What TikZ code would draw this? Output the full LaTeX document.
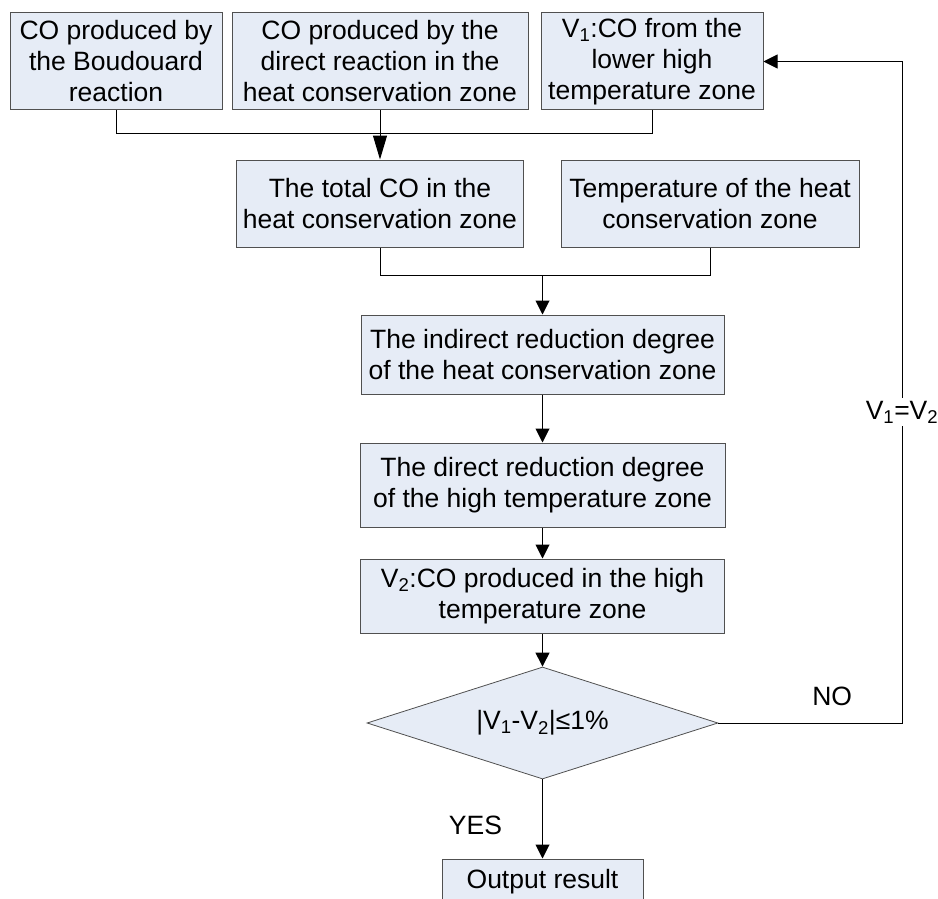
\documentclass[tikz,border=0pt]{standalone}
\usepackage{fontspec}
\setmainfont{Liberation Sans}
\usetikzlibrary{arrows.meta,shapes.geometric}
\definecolor{boxfill}{RGB}{230,236,246}
\definecolor{boxline}{RGB}{80,80,80}
\newcommand{\boxfont}{\fontsize{26.5}{31}\selectfont}
\begin{document}
\begin{tikzpicture}[x=1pt,y=-1pt]
    \tikzstyle{box}=[rectangle, draw=boxline, fill=boxfill, line width=1pt, align=center, inner sep=0pt, font=\boxfont]
    \tikzstyle{decision}=[diamond, aspect=3, draw=boxline, fill=boxfill, line width=0.8pt, inner sep=0pt, font=\boxfont]
    \tikzstyle{line}=[draw=black, line width=1pt]
    \tikzstyle{arrow}=[line, -{Triangle[length=14pt,width=14pt]}]
    \tikzstyle{label}=[inner sep=0pt, font=\boxfont]

    \clip (0,0) rectangle (938,899);

    \node[box, minimum width=212pt, minimum height=97pt] (boudouard) at (116,61.5) {CO produced by\\the Boudouard\\reaction};
    \node[box, minimum width=296pt, minimum height=97pt] (direct) at (380,61.5) {CO produced by the\\direct reaction in the\\heat conservation zone};
    \node[box, minimum width=222pt, minimum height=97pt] (lower) at (652,61.5) {V\textsubscript{1}:CO from the\\lower high\\temperature zone};
    \node[box, minimum width=287pt, minimum height=87pt] (total) at (380,203.5) {The total CO in the\\heat conservation zone};
    \node[box, minimum width=298pt, minimum height=87pt] (temp) at (710,203.5) {Temperature of the heat\\conservation zone};
    \node[box, minimum width=363pt, minimum height=79pt] (indirect) at (542.5,354.5) {The indirect reduction degree\\of the heat conservation zone};
    \node[box, minimum width=365pt, minimum height=84pt] (directdeg) at (542.5,485) {The direct reduction degree\\of the high temperature zone};
    \node[box, minimum width=364pt, minimum height=74pt] (high) at (542.5,596) {V\textsubscript{2}:CO produced in the high\\temperature zone};
    \node[decision, minimum width=351pt, minimum height=112pt] (check) at (542.5,723) {|V\textsubscript{1}-V\textsubscript{2}|≤1\%};
    \node[box, minimum width=201pt, minimum height=46pt] (output) at (542.5,882) {Output result};

    \coordinate (join1) at (380,133);
    \coordinate (join2) at (542.5,275);
    \coordinate (loop) at (902,61.5);

    \draw[line] (boudouard.south) |- (join1);
    \draw[line] (lower.south) |- (join1);
    \draw[line, -{Triangle[length=24pt,width=14pt]}] (direct.south) -- (total.north);
    \draw[line] (total.south) |- (join2);
    \draw[line] (temp.south) |- (join2);
    \draw[arrow] (join2) -- (indirect.north);
    \draw[arrow] (indirect.south) -- (directdeg.north);
    \draw[arrow] (directdeg.south) -- (high.north);
    \draw[arrow] (high.south) -- (check.north);
    \draw[arrow] (check.south) -- node[label, pos=0.575, left=40pt] {YES} (output.north);
    \draw[arrow] (check.east) -| node[label, pos=0.31, above=17pt] {NO}
        node[label, pos=0.735, fill=white, inner sep=3pt] {V\textsubscript{1}=V\textsubscript{2}} (loop) -- (lower.east);
\end{tikzpicture}
\end{document}
